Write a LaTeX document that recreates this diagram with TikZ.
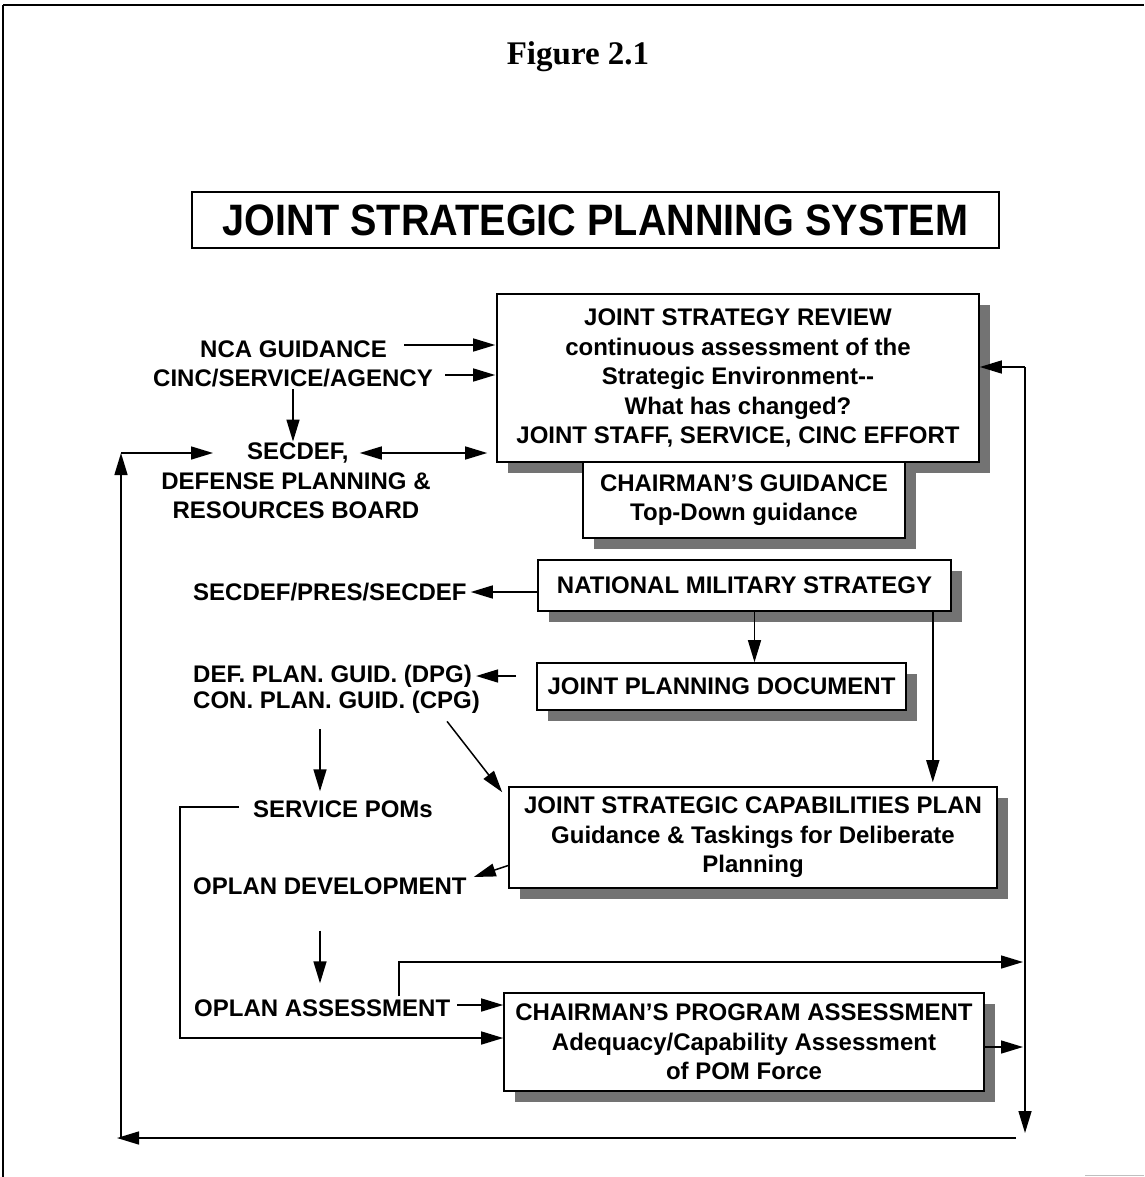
\documentclass[tikz,border=0pt]{standalone}
\usepackage{fontspec}
\setmainfont{Liberation Sans}
\newfontfamily\serifb{Liberation Serif}
\usetikzlibrary{arrows.meta,calc,shadows}
\tikzset{
  txt/.style={font=\fontsize{24}{29}\selectfont\bfseries, inner sep=0pt, align=center},
  box/.style={draw, line width=1.6pt, fill=white, inner sep=0pt, align=center,
    font=\fontsize{24}{29.5}\selectfont\bfseries,
    general shadow={fill=black!55, draw=none, shadow xshift=11pt, shadow yshift=-11pt}},
  arr/.style={line width=1.5pt, -{Triangle[length=22pt,width=13pt]}},
  arrb/.style={line width=1.5pt, {Triangle[length=22pt,width=13pt]}-{Triangle[length=22pt,width=13pt]}},
}
\begin{document}
\begin{tikzpicture}[x=1pt,y=-1pt]
\useasboundingbox (0,0) rectangle (1144,1177);
% frame
\draw[line width=2pt] (3,5) -- (1144,5);
\draw[line width=1.2pt] (3,5) -- (3,1177);
\draw[line width=1pt, black!25] (1085,1175) -- (1144,1175);

\node[font=\serifb\bfseries\fontsize{33}{36}\selectfont, inner sep=0pt] (fig) at (578,57) {Figure 2.1};
\node[draw, line width=1.4pt, minimum width=807pt, minimum height=56pt, inner sep=0pt,
  font=\fontsize{44}{48}\selectfont\bfseries] (title) at (595.5,220)
  {\scalebox{0.9}[1]{JOINT STRATEGIC PLANNING SYSTEM}};

% boxes
\node[box, minimum width=482pt, minimum height=168pt] (jsr) at (738,378)
  {JOINT STRATEGY REVIEW\\continuous assessment of the\\Strategic Environment{-}{-}\\What has changed?\\JOINT STAFF, SERVICE, CINC EFFORT};
\node[box, minimum width=322pt, minimum height=76pt] (cg) at (744,500)
  {CHAIRMAN'S GUIDANCE\\Top-Down guidance};
\node[box, minimum width=413pt, minimum height=51pt] (nms) at (744.5,585.5)
  {NATIONAL MILITARY STRATEGY};
\node[box, minimum width=369pt, minimum height=47pt] (jpd) at (721.5,686.5)
  {JOINT PLANNING DOCUMENT};
\node[box, minimum width=488pt, minimum height=101pt] (jscp) at (753,837.5)
  {JOINT STRATEGIC CAPABILITIES PLAN\\Guidance \& Taskings for Deliberate\\Planning};
\node[box, minimum width=480pt, minimum height=98pt] (cpa) at (744,1042)
  {CHAIRMAN'S PROGRAM ASSESSMENT\\Adequacy/Capability Assessment\\of POM Force};

% free text
\node[txt, anchor=west] (nca) at (200,349) {NCA GUIDANCE};
\node[txt, anchor=west] (cinc) at (153,378) {CINC/SERVICE/AGENCY};
\node[txt, anchor=west] (secdef) at (247,453) {SECDEF,};
\node[txt] (dprb) at (296,496) {DEFENSE PLANNING \&\\RESOURCES BOARD};
\node[txt, anchor=west] (pres) at (193,592) {SECDEF/PRES/SECDEF};
\node[txt, anchor=west] (dpg) at (193,676) {DEF. PLAN. GUID. (DPG)};
\node[txt, anchor=west] (cpg) at (193,702) {CON. PLAN. GUID. (CPG)};
\node[txt, anchor=west] (poms) at (253,809) {SERVICE POMs};
\node[txt, anchor=west] (odev) at (193,886) {OPLAN DEVELOPMENT};
\node[txt, anchor=west] (oass) at (194,1008) {OPLAN ASSESSMENT};

% coordinates for free ends
\coordinate (rtop) at (1025,367);
\coordinate (rbot) at (1025,1133);
\coordinate (bR) at (1016,1138);
\coordinate (bL) at (117,1138);
\coordinate (lbot) at (121,1138);
\coordinate (ltop) at (121,453);
\coordinate (pl) at (180,1038);
\coordinate (oaR) at (1023,962);

% right feedback line
\draw[arr] (rtop) -- (rbot);
\draw[arr] (rtop) -- (rtop -| jsr.east);
% bottom and left feedback line
\draw[arr] (bR) -- (bL);
\draw[arr] (lbot) -- (ltop);
\draw[arr] (ltop) -- ($(secdef.west |- ltop)+(-34,0)$);

% inputs to JSR
\draw[arr] ($(nca.east)+(17,-4)$) -- ($(nca.east -| jsr.west)+(-1,-4)$);
\draw[arr] ($(cinc.east)+(12,-3)$) -- ($(cinc.east -| jsr.west)+(-1,-3)$);
\draw[arr] ($(cinc.south)+(0,2)$) -- ($(cinc.south |- secdef.north)+(0,-1)$);
\draw[arrb] ($(secdef.east)+(11,0)$) -- ($(secdef.east -| jsr.west)+(-9,0)$);

% NMS
\draw[arr] (nms.west |- pres.east) -- ($(pres.east)+(4,0)$);
\draw[arr] ($(nms.south)+(10,0)$) -- ($(nms.south |- jpd.north)+(10,0)$);
\draw[arr] ($(nms.south east)+(-19,0)$) -- ($(nms.south east |- jscp.north)+(-19,-4)$);

% JPD and guidance
\draw[arr] ($(jpd.west |- dpg.east)+(-20,0)$) -- ($(dpg.east)+(4,0)$);
\draw[arr] ($(cpg.south east)+(-33,8)$) -- ($(jscp.north west)+(-6,6)$);
\draw[arr] ($(cpg.south west)+(127,16)$) -- ($(cpg.south west |- poms.north)+(127,-9)$);

% POMs loop
\draw[arr] ($(poms.west)+(-14,-2)$) -| (pl) -- (pl -| cpa.west);

% JSCP and OPLAN
\draw[arr] ($(jscp.west)+(0,28)$) -- ($(odev.east)+(7,-9)$);
\draw[arr] ($(odev.south west)+(127,36)$) -- ($(odev.south west |- oass.north)+(127,-16)$);
\draw[arr] ($(oass.east)+(7,-3)$) -- ($(oass.east -| cpa.west)+(0,-3)$);
\draw[arr] ($(oass.north west)+(205,-3)$) |- (oaR);

% CPA to right line
\draw[arr] ($(cpa.east)+(0,5)$) -- ($(cpa.east -| rtop)+(-2,5)$);
\end{tikzpicture}
\end{document}
